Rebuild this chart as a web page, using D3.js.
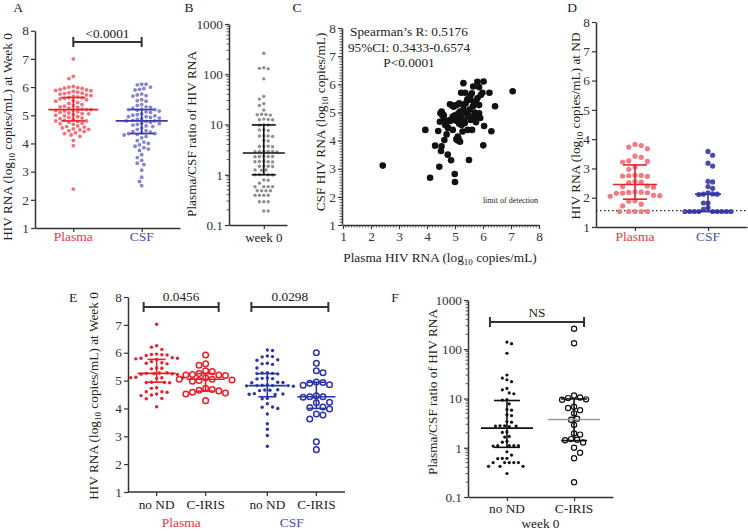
<!DOCTYPE html>
<html><head><meta charset="utf-8">
<script src="https://cdn.jsdelivr.net/npm/d3@7"></script>
<style>
body{margin:0;background:#fff}
svg text{font-family:"Liberation Serif","DejaVu Serif",serif !important;}
</style>
</head><body>
<script>
// ================= DATA =================
const catsA = ["Plasma", "CSF"];
const A_plasma = [7.0, 6.38, 6.3, 6.02, 6.0, 5.98, 5.96, 5.95, 5.92, 5.9, 5.88, 5.87, 5.85, 5.82, 5.8, 5.78, 5.77, 5.75, 5.72, 5.7, 5.68, 5.65, 5.63, 5.62, 5.6, 5.58, 5.55, 5.52, 5.5, 5.45, 5.42, 5.38, 5.35, 5.32, 5.3, 5.28, 5.25, 5.22, 5.2, 5.2, 5.18, 5.17, 5.15, 5.12, 5.1, 5.08, 5.06, 5.05, 5.02, 5.0, 4.98, 4.95, 4.92, 4.9, 4.88, 4.85, 4.82, 4.8, 4.8, 4.78, 4.75, 4.72, 4.7, 4.68, 4.62, 4.6, 4.58, 4.55, 4.52, 4.5, 4.48, 4.45, 4.42, 4.38, 4.35, 4.3, 4.25, 4.1, 3.92, 2.38];
const A_csf = [6.1, 6.1, 6.08, 6.0, 5.95, 5.92, 5.9, 5.75, 5.72, 5.7, 5.68, 5.55, 5.52, 5.5, 5.38, 5.35, 5.3, 5.28, 5.25, 5.22, 5.2, 5.2, 5.18, 5.15, 5.12, 5.1, 5.05, 5.02, 5.0, 4.98, 4.95, 4.95, 4.92, 4.9, 4.88, 4.85, 4.82, 4.8, 4.8, 4.78, 4.75, 4.72, 4.7, 4.68, 4.65, 4.62, 4.6, 4.55, 4.5, 4.45, 4.42, 4.4, 4.38, 4.35, 4.35, 4.32, 4.3, 4.25, 4.2, 4.1, 4.05, 4.0, 3.95, 3.9, 3.85, 3.8, 3.75, 3.6, 3.5, 3.4, 3.3, 3.25, 3.05, 2.8, 2.65, 2.5];
const A_plasmaStats = [5.2, 4.8, 5.63];   // median, q1, q3
const A_csfStats = [4.8, 4.35, 5.2];
const A_p = "<0.0001";

const catsB = ["week 0"];
const B_ratio = [261, 135, 131, 128, 81, 36, 32, 26, 24, 19.5, 16, 15.6, 15.4, 15.8, 12.8, 12.5, 12.4, 12.6, 9.9, 9.7, 9.8, 7.8, 7.9, 7.6, 5.9, 5.8, 6.0, 5.9, 4.8, 4.7, 3.7, 3.65, 3.6, 3.72, 2.9, 2.9, 2.85, 2.88, 2.92, 2.9, 2.3, 2.3, 2.28, 2.35, 2.3, 1.82, 1.8, 1.82, 1.84, 1.86, 1.48, 1.46, 1.5, 1.48, 1.24, 1.23, 1.25, 1.0, 1.01, 0.99, 1.0, 1.02, 0.79, 0.78, 0.68, 0.58, 0.58, 0.58, 0.58, 0.48, 0.48, 0.48, 0.48, 0.39, 0.39, 0.39, 0.39, 0.29, 0.29, 0.29, 0.19, 0.19];
const B_stats = [2.7, 1.0, 9.8];
const logTicks = [0.1, 1, 10, 100, 1000];

const C_plasma = [2.42, 7.06, 4.11, 4.99, 5.0, 4.44, 4.86, 5.5, 4.74, 4.5, 4.29, 4.52, 6.01, 3.94, 4.4, 6.3, 4.62, 4.7, 5.1, 5.12, 5.18, 5.1, 5.27, 5.45, 5.61, 5.23, 5.35, 4.46, 4.7, 4.81, 4.92, 5.02, 5.2, 5.32, 5.48, 5.56, 5.68, 5.8, 5.86, 6.04, 4.52, 4.55, 4.48, 4.6, 4.82, 5.06, 5.15, 5.3, 5.18, 5.12, 5.3, 5.38, 5.52, 5.64, 5.69, 5.75, 5.8, 5.86, 5.92, 6.43, 6.23, 5.3, 5.36, 5.6, 5.65, 5.8, 6.02, 5.86, 5.98, 5.44, 5.56, 4.92, 4.55, 4.6, 4.65, 4.75, 4.85, 4.95, 5.0, 5.05, 5.15, 5.25, 5.22, 5.4, 5.5, 5.7, 5.75, 5.9, 5.55, 4.9, 5.05];
const C_csf = [3.11, 5.75, 2.68, 2.81, 2.53, 3.07, 3.30, 3.31, 3.50, 3.63, 3.82, 3.80, 3.83, 4.38, 4.34, 4.33, 4.02, 4.22, 4.0, 4.08, 3.96, 4.14, 4.32, 4.38, 4.38, 4.55, 4.62, 4.67, 4.62, 4.73, 4.85, 4.8, 4.85, 4.73, 4.9, 4.73, 4.8, 4.85, 4.97, 4.52, 5.03, 4.9, 4.97, 4.75, 5.29, 5.26, 5.32, 5.26, 5.03, 4.97, 5.1, 5.32, 5.1, 5.22, 5.32, 5.39, 5.5, 5.26, 5.62, 5.22, 5.70, 6.04, 5.7, 5.68, 5.92, 6.09, 6.1, 5.9, 5.7, 5.47, 5.44, 4.38, 4.95, 4.9, 4.55, 4.45, 4.7, 5.2, 4.9, 4.7, 4.6, 4.75, 5.7, 4.95, 4.85, 5.0, 4.65, 4.8, 5.6, 5.25, 4.05];
const C_text = ["Spearman\u2019s R: 0.5176", "95%CI: 0.3433-0.6574", "P<0.0001"];

const D_plasma = [3.82, 3.78, 3.73, 3.67, 3.42, 3.38, 3.26, 3.24, 3.22, 3.05, 2.97, 2.77, 2.76, 2.75, 2.74, 2.73, 2.55, 2.53, 2.52, 2.4, 2.38, 2.36, 2.2, 2.19, 2.18, 2.17, 2.16, 2.15, 2.08, 2.07, 2.05, 1.9, 1.88, 1.78, 1.72, 1.53, 1.53, 1.53, 1.53, 1.53];
const D_csf = [3.58, 3.45, 3.18, 3.08, 2.56, 2.54, 2.38, 2.32, 2.17, 2.12, 2.11, 2.12, 2.13, 1.82, 1.82, 1.66, 1.6, 1.53, 1.53, 1.53, 1.53, 1.53, 1.53, 1.53, 1.53, 1.53];
const D_plasmaStats = [2.45, 1.95, 3.12];
const D_csfStats = [1.53, 1.53, 2.12];
const D_limit = 1.56;

const E_groups = ["Plasma", "CSF"];
const E_sub = ["no ND", "C-IRIS"];
const E_plasmaNoND = [7.02, 6.25, 6.2, 6.12, 5.95, 5.94, 5.93, 5.92, 5.9, 5.82, 5.8, 5.8, 5.78, 5.76, 5.64, 5.62, 5.6, 5.68, 5.45, 5.44, 5.42, 5.28, 5.26, 5.25, 5.24, 5.23, 5.22, 5.27, 5.1, 5.1, 5.08, 5.1, 5.12, 4.94, 4.93, 4.92, 4.93, 4.74, 4.72, 4.6, 4.6, 4.58, 4.48, 4.46, 4.52, 4.36, 4.35, 4.06];
const E_plasmaIRIS = [5.92, 5.6, 5.55, 5.35, 5.32, 5.25, 5.22, 5.2, 5.2, 5.18, 5.1, 5.05, 5.02, 5.0, 4.98, 5.05, 4.72, 4.68, 4.65, 4.63, 4.58, 4.55, 4.52, 4.28];
const E_csfNoND = [6.1, 6.08, 5.88, 5.86, 5.85, 5.75, 5.73, 5.62, 5.58, 5.6, 5.45, 5.28, 5.25, 5.24, 5.26, 5.27, 5.08, 5.07, 5.06, 5.09, 4.93, 4.94, 4.92, 4.82, 4.82, 4.81, 4.83, 4.8, 4.84, 4.82, 4.66, 4.65, 4.64, 4.67, 4.52, 4.51, 4.53, 4.5, 4.36, 4.35, 4.17, 4.05, 4.0, 4.04, 3.8, 3.45, 3.25, 3.03, 2.64];
const E_csfIRIS = [6.0, 5.62, 5.35, 5.28, 4.95, 4.93, 4.9, 4.85, 4.83, 4.45, 4.42, 4.42, 4.4, 4.22, 4.2, 4.05, 4.03, 3.98, 3.8, 3.76, 3.62, 2.8, 2.52];
const E_stats = [[5.26, 4.94, 5.76], [5.05, 4.62, 5.25], [4.82, 4.42, 5.25], [4.42, 4.0, 4.94]];
const E_p = ["0.0456", "0.0298"];

const F_noND = [140, 130, 83, 30, 26, 24, 22, 16, 15, 13, 12.5, 9.5, 9.3, 7.8, 6, 5.8, 4.7, 4.5, 3.4, 3.3, 2.8, 2.75, 2.7, 2.75, 2.8, 2.1, 2.05, 1.7, 1.65, 1.35, 1.3, 1.1, 1.1, 1.08, 1.1, 1.1, 0.83, 0.71, 0.61, 0.61, 0.6, 0.5, 0.5, 0.5, 0.5, 0.5, 0.42, 0.42, 0.42, 0.3];
const F_IRIS = [260, 132, 11.5, 10.5, 10.2, 9.6, 9.4, 6.8, 6.4, 5.8, 5.0, 3.9, 3.7, 2.9, 1.95, 1.85, 1.5, 1.45, 1.42, 1.28, 1.0, 0.79, 0.61, 0.2];
const F_stats = [[2.5, 1.02, 9.1], [3.75, 1.4, 9.8]];
const F_p = "NS";

// ================= STYLE =================
const FONT = "Liberation Serif, DejaVu Serif, serif";
const AX = "#333";
const RED = "#e3242d", BLUE = "#3a3aa6";
const RED_L = "#f2727a", BLUE_L = "#8686cf";
const LBL_RED = "#e8363f", LBL_BLUE = "#4c4cb2";

const svg = d3.select("body").append("svg").attr("width", 748).attr("height", 531)
  .attr("font-family", FONT);

// ================= HELPERS =================
function swarm(values, ys, d) {
  const pts = values.map(v => ({ v, y: ys(v) })).sort((a, b) => b.v - a.v);
  const placed = [];
  pts.forEach((p, i) => {
    let best = null;
    for (let k = 0; k < 80 && best === null; k++) {
      const offs = k === 0 ? [0] : (i % 2 ? [k * d / 2, -k * d / 2] : [-k * d / 2, k * d / 2]);
      for (const o of offs) {
        if (placed.every(q => Math.hypot(q.x - o, q.y - p.y) >= d - 0.01)) { best = o; break; }
      }
    }
    p.x = best === null ? 0 : best;
    placed.push(p);
  });
  return pts;
}
function dots(values, cx, ys, o) {
  const pts = swarm(values, ys, o.d);
  svg.append("g").selectAll("circle").data(pts).join("circle")
    .attr("cx", p => cx + p.x).attr("cy", p => p.y).attr("r", o.r)
    .attr("fill", o.open ? "none" : o.color)
    .attr("stroke", o.open ? o.color : "none")
    .attr("stroke-width", o.open ? o.sw : 0);
}
function medIQR(stats, cx, ys, o) {
  const g = svg.append("g").attr("stroke", o.color).attr("stroke-width", o.w || 1.6);
  g.append("line").attr("x1", cx).attr("x2", cx).attr("y1", ys(stats[1])).attr("y2", ys(stats[2]));
  [stats[1], stats[2]].forEach(v => g.append("line")
    .attr("x1", cx - o.cw).attr("x2", cx + o.cw).attr("y1", ys(v)).attr("y2", ys(v)));
  g.append("line").attr("stroke", o.medColor || o.color)
    .attr("x1", cx - o.mw).attr("x2", cx + o.mw).attr("y1", ys(stats[0])).attr("y2", ys(stats[0]));
}
function styleAxis(g, fs) {
  g.attr("font-family", FONT);
  g.select(".domain").attr("stroke", AX).attr("stroke-width", 1.5);
  g.selectAll(".tick line").attr("stroke", AX).attr("stroke-width", 1.2);
  g.selectAll("text").attr("font-size", fs || 13.3).attr("fill", "#333");
}
function yAxis(x, scale, values, fmt, minor) {
  const ax = d3.axisLeft(scale).tickValues(values).tickSize(4).tickPadding(2).tickSizeOuter(0)
    .tickFormat(fmt || d3.format("d"));
  const g = svg.append("g").attr("transform", `translate(${x},0)`).call(ax);
  if (minor) g.selectAll("line.minor").data(minor).join("line").attr("class", "minor")
    .attr("x1", -2.5).attr("x2", 0).attr("y1", d => scale(d)).attr("y2", d => scale(d))
    .attr("stroke", AX).attr("stroke-width", 0.8);
  styleAxis(g);
  return g;
}
function xAxisPoint(y, scale) {
  const g = svg.append("g").attr("transform", `translate(0,${y})`)
    .call(d3.axisBottom(scale).tickSize(4).tickSizeOuter(0).tickFormat(""));
  styleAxis(g);
  return g;
}
function text(x, y, s, o = {}) {
  return svg.append("text").attr("x", x).attr("y", y).text(s)
    .attr("text-anchor", o.anchor || "middle").attr("font-size", o.fs || 13.3)
    .attr("fill", o.color || "#222");
}
function yTitle(x, y, before, sub, after) {
  const t = svg.append("text").attr("transform", `translate(${x},${y}) rotate(-90)`)
    .attr("text-anchor", "middle").attr("font-size", 13.3).attr("fill", "#222");
  t.append("tspan").text(before);
  if (sub) {
    t.append("tspan").text(sub).attr("font-size", 9).attr("dy", 3);
    t.append("tspan").text(after).attr("dy", -3);
  }
  return t;
}
function bracket(x1, x2, y, label, ty) {
  const g = svg.append("g").attr("stroke", "#333").attr("stroke-width", 2);
  g.append("line").attr("x1", x1).attr("x2", x2).attr("y1", y).attr("y2", y);
  g.append("line").attr("x1", x1).attr("x2", x1).attr("y1", y - 5).attr("y2", y + 5);
  g.append("line").attr("x1", x2).attr("x2", x2).attr("y1", y - 5).attr("y2", y + 5);
  text((x1 + x2) / 2, ty, label, { fs: 13.3 });
}
const lin18 = d3.range(1, 9);
const minorLog = [0.1, 1, 10, 100].flatMap(d => d3.range(2, 10).map(k => k * d));

// ================= PANEL A =================
{
  const ys = d3.scaleLinear([1, 8], [228, 30.7]);
  const xs = d3.scalePoint(catsA, [35, 180]).padding(0.56);
  xAxisPoint(228, xs);
  yAxis(35, ys, lin18);
  dots(A_plasma, xs("Plasma"), ys, { r: 1.9, d: 4.4, color: RED_L });
  dots(A_csf, xs("CSF"), ys, { r: 1.9, d: 4.4, color: BLUE_L });
  medIQR(A_plasmaStats, xs("Plasma"), ys, { color: RED, mw: 25, cw: 12 });
  medIQR(A_csfStats, xs("CSF"), ys, { color: BLUE, mw: 26, cw: 12.5 });
  bracket(xs("Plasma"), xs("CSF"), 42, A_p, 38);
  text(xs("Plasma"), 241, "Plasma", { fs: 13.5, color: LBL_RED });
  text(xs("CSF"), 241, "CSF", { fs: 13.5, color: LBL_BLUE });
  yTitle(11.5, 137, "HIV RNA (log", "10", " copies/mL) at Week 0");
  text(18, 12, "A", { fs: 13.5 });
}

// ================= PANEL B =================
{
  const ys = d3.scaleLog([0.1, 1000], [225, 24]);
  const xs = d3.scalePoint(catsB, [229, 287]).padding(0.5).align(0.6);
  xAxisPoint(225, xs);
  yAxis(229, ys, logTicks, d3.format("~g"), minorLog);
  dots(B_ratio, xs("week 0"), ys, { r: 1.7, d: 4.4, color: "#8e8e8e" });
  medIQR(B_stats, xs("week 0"), ys, { color: "#111", mw: 21, cw: 12 });
  text(xs("week 0"), 242, "week 0", { fs: 13 });
  yTitle(196, 134, "Plasma/CSF ratio of HIV RNA");
  text(189, 12, "B", { fs: 13.5 });
}

// ================= PANEL C =================
{
  const xs = d3.scaleLinear([1, 8], [343, 539]);
  const ys = d3.scaleLinear([1, 8], [225, 28]);
  const minor = d3.range(10, 80).filter(d => d % 10).map(d => d / 10);
  yAxis(342, ys, lin18, null, minor);
  const gx = svg.append("g").attr("transform", "translate(0,225)")
    .call(d3.axisBottom(xs).tickValues(lin18).tickSize(4).tickPadding(3).tickSizeOuter(0).tickFormat(d3.format("d")));
  gx.selectAll("line.minor").data(minor).join("line").attr("class", "minor")
    .attr("x1", d => xs(d)).attr("x2", d => xs(d)).attr("y1", 0).attr("y2", 2.5)
    .attr("stroke", AX).attr("stroke-width", 0.8);
  styleAxis(gx);
  svg.append("g").selectAll("circle").data(C_plasma.map((v, i) => [v, C_csf[i]])).join("circle")
    .attr("cx", d => xs(d[0])).attr("cy", d => ys(d[1])).attr("r", 3.3).attr("fill", "#111");
  C_text.forEach((s, i) => text(409, 36 + i * 15.5, s, { fs: 13.3 }));
  text(538, 203, "limit of detection", { fs: 8, anchor: "end" });
  const xt = text(440, 262, "Plasma HIV RNA (log", { fs: 13.3 });
  xt.append("tspan").text("10").attr("font-size", 9).attr("dy", 3);
  xt.append("tspan").text(" copies/mL)").attr("dy", -3);
  yTitle(325, 122, "CSF HIV RNA (log", "10", " copies/mL)");
  text(297, 12, "C", { fs: 13.5 });
}

// ================= PANEL D =================
{
  const ys = d3.scaleLinear([1, 8], [227, 22]);
  const xs = d3.scalePoint(catsA, [596, 747]).padding(0.534);
  xAxisPoint(227, xs);
  yAxis(596, ys, lin18);
  svg.append("line").attr("x1", 596).attr("x2", 748).attr("y1", ys(D_limit)).attr("y2", ys(D_limit))
    .attr("stroke", "#222").attr("stroke-width", 1.4).attr("stroke-dasharray", "1.5,2.5");
  dots(D_plasma, xs("Plasma"), ys, { r: 2.6, d: 6.2, color: "#f27a83" });
  dots(D_csf, xs("CSF"), ys, { r: 2.6, d: 4.6, color: "#4a4aae" });
  medIQR(D_plasmaStats, xs("Plasma"), ys, { color: RED, mw: 22, cw: 12 });
  medIQR(D_csfStats, xs("CSF"), ys, { color: "#2f2f9e", mw: 22, cw: 13 });
  text(xs("Plasma"), 241, "Plasma", { fs: 13.5, color: LBL_RED });
  text(xs("CSF"), 241, "CSF", { fs: 13.5, color: LBL_BLUE });
  yTitle(580, 126, "HIV RNA (log", "10", " copies/mL) at ND");
  text(572, 12, "D", { fs: 13.5 });
}

// ================= PANEL E =================
{
  const ys = d3.scaleLinear([1, 8], [492, 297]);
  const xg = d3.scalePoint(E_groups, [128, 345]).padding(0.48);
  const xsub = d3.scalePoint(E_sub, [-24.5, 24.5]);
  const pos = (g, s) => xg(g) + xsub(s);
  const gx = svg.append("g");
  gx.append("line").attr("x1", 128).attr("x2", 345).attr("y1", 492).attr("y2", 492)
    .attr("stroke", AX).attr("stroke-width", 1.5);
  E_groups.forEach(g => E_sub.forEach(s => {
    gx.append("line").attr("x1", pos(g, s)).attr("x2", pos(g, s)).attr("y1", 492).attr("y2", 496)
      .attr("stroke", AX).attr("stroke-width", 1.2);
    text(pos(g, s), 509, s, { fs: 13.3 });
  }));
  yAxis(128, ys, lin18);
  dots(E_plasmaNoND, pos("Plasma", "no ND"), ys, { r: 1.7, d: 5.2, color: "#e8202a" });
  dots(E_plasmaIRIS, pos("Plasma", "C-IRIS"), ys, { r: 2.8, d: 6.6, color: "#e8202a", open: true, sw: 1.5 });
  dots(E_csfNoND, pos("CSF", "no ND"), ys, { r: 1.7, d: 5.2, color: "#2b35a5" });
  dots(E_csfIRIS, pos("CSF", "C-IRIS"), ys, { r: 2.8, d: 6.6, color: "#2b35a5", open: true, sw: 1.5 });
  medIQR(E_stats[0], pos("Plasma", "no ND"), ys, { color: "#e8202a", mw: 19, cw: 9 });
  medIQR(E_stats[1], pos("Plasma", "C-IRIS"), ys, { color: "#e8202a", mw: 19, cw: 9 });
  medIQR(E_stats[2], pos("CSF", "no ND"), ys, { color: "#2b35a5", mw: 19, cw: 9 });
  medIQR(E_stats[3], pos("CSF", "C-IRIS"), ys, { color: "#2b35a5", mw: 19, cw: 9 });
  bracket(pos("Plasma", "no ND") - 13, pos("Plasma", "C-IRIS") + 13, 307, E_p[0], 301);
  bracket(pos("CSF", "no ND") - 16, pos("CSF", "C-IRIS") + 12, 307, E_p[1], 301);
  text(xg("Plasma"), 527, "Plasma", { fs: 13.5, color: LBL_RED });
  text(xg("CSF"), 527, "CSF", { fs: 13.5, color: LBL_BLUE });
  yTitle(98, 396, "HIV RNA (log", "10", " copies/mL) at Week 0");
  text(73, 302, "E", { fs: 13.5 });
}

// ================= PANEL F =================
{
  const ys = d3.scaleLog([0.1, 1000], [497, 300]);
  const xs = d3.scalePoint(E_sub, [468, 613]).padding(0.58);
  xAxisPoint(497, xs);
  yAxis(468, ys, logTicks, d3.format("~g"), minorLog);
  dots(F_noND, xs("no ND"), ys, { r: 1.6, d: 4.6, color: "#111" });
  dots(F_IRIS, xs("C-IRIS"), ys, { r: 2.6, d: 6.0, color: "#111", open: true, sw: 1.2 });
  medIQR(F_stats[0], xs("no ND"), ys, { color: "#111", mw: 26, cw: 13 });
  medIQR(F_stats[1], xs("C-IRIS"), ys, { color: "#111", mw: 26, cw: 13, medColor: "#9a9a9a" });
  bracket(xs("no ND") - 17, xs("C-IRIS") + 10, 322, F_p, 317);
  E_sub.forEach(s => text(xs(s), 513, s, { fs: 13.3 }));
  text((xs("no ND") + xs("C-IRIS")) / 2, 528, "week 0", { fs: 13.3 });
  yTitle(437, 392, "Plasma/CSF ratio of HIV RNA");
  text(395, 302, "F", { fs: 13.5 });
}
</script>
</body></html>
